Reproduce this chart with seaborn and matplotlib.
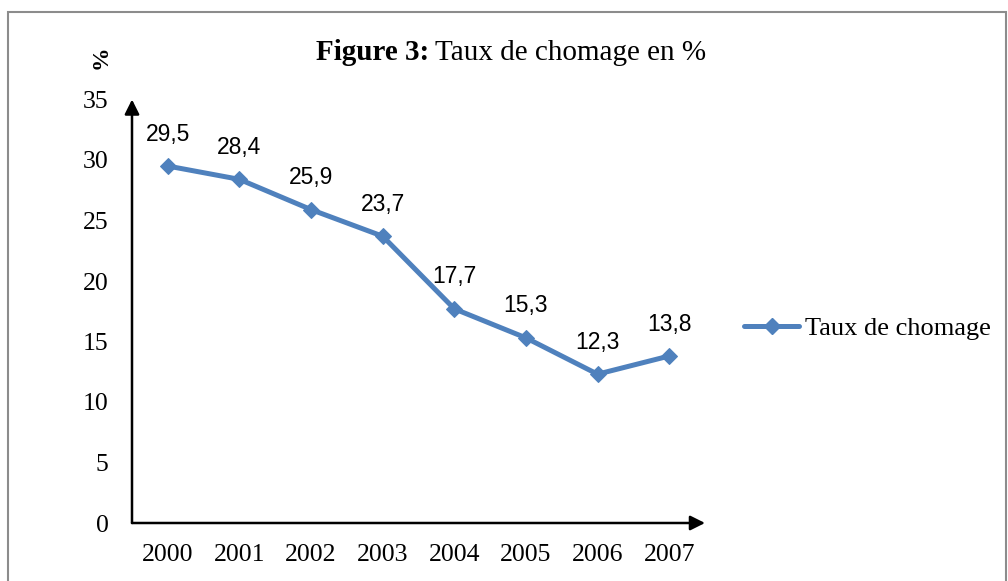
import matplotlib
matplotlib.use("Agg")
import matplotlib.pyplot as plt
import seaborn as sns
import pandas as pd
from matplotlib.lines import Line2D
from matplotlib.patches import Rectangle

years = ["2000", "2001", "2002", "2003", "2004", "2005", "2006", "2007"]
rates = [29.5, 28.4, 25.9, 23.7, 17.7, 15.3, 12.3, 13.8]
labels = ["29,5", "28,4", "25,9", "23,7", "17,7", "15,3", "12,3", "13,8"]
series_name = "Taux de chomage"
y_ticks = [0, 5, 10, 15, 20, 25, 30, 35]

sns.set_theme(style="white")
plt.rcParams["font.family"] = ["Liberation Serif", "DejaVu Serif"]
plt.rcParams["text.color"] = "black"
plt.rcParams["xtick.color"] = "black"
plt.rcParams["ytick.color"] = "black"

W, H = 1008, 581
fig = plt.figure(figsize=(W / 100, H / 100), dpi=100)
ax = fig.add_axes([132 / W, 1 - 523 / H, (705 - 132) / W, (523 - 99.5) / H])

color = "#4F81BD"
df = pd.DataFrame({"year": years, "rate": rates})
sns.lineplot(data=df, x="year", y="rate", ax=ax, color=color, linewidth=3.6,
             marker="D", markersize=8.5, markeredgecolor=color, sort=False)

for i, (v, lab) in enumerate(zip(rates, labels)):
    ax.annotate(lab, (i, v), xytext=(0, 23), textcoords="offset points",
                ha="center", va="center", fontsize=16.5,
                family=["Liberation Sans", "DejaVu Sans"], color="black")

ax.set_xlim(-0.5, 7.5)
ax.set_ylim(0, 35)
ax.set_yticks(y_ticks)
ax.set_yticklabels([str(t) for t in y_ticks])
ax.tick_params(axis="both", length=0, labelsize=18.5, colors="black")
ax.tick_params(axis="y", pad=17)
ax.tick_params(axis="x", pad=15)
ax.set_xlabel("")
ax.set_ylabel("")
for s in ax.spines.values():
    s.set_visible(False)

# arrowed axes
ax.annotate("", xy=(1.0, 0), xytext=(0, 0), xycoords="axes fraction",
            textcoords="axes fraction",
            arrowprops=dict(arrowstyle="-|>", color="black", lw=1.8,
                            mutation_scale=22, shrinkA=0, shrinkB=0))
ax.annotate("", xy=(0, 1.0), xytext=(0, 0), xycoords="axes fraction",
            textcoords="axes fraction",
            arrowprops=dict(arrowstyle="-|>", color="black", lw=1.8,
                            mutation_scale=22, shrinkA=0, shrinkB=0))

# title
t1 = fig.text(316 / W, 1 - 53 / H, "Figure 3:", fontsize=21, fontweight="bold",
              ha="left", va="center")
fig.canvas.draw()
bb = t1.get_window_extent()
fig.text(bb.x1 / W + 6 / W, 1 - 53 / H, "Taux de chomage en %", fontsize=21,
         ha="left", va="center")

# y unit label
fig.text(101 / W, 1 - 57 / H, "%", fontsize=17, fontweight="bold", rotation=90,
         ha="center", va="center")

# legend
handle = Line2D([], [], color=color, lw=3.6, marker="D", markersize=8.5,
                markeredgecolor=color)
fig.legend([handle], [series_name], loc="center left",
           bbox_to_anchor=(744 / W, 1 - 328 / H), frameon=False, fontsize=19,
           handlelength=2.1, handletextpad=0.2, borderpad=0, borderaxespad=0)

# border
fig.add_artist(Rectangle((8 / W, -0.01), (1006 - 8) / W, 1 - 12 / H + 0.01,
                         transform=fig.transFigure, fill=False,
                         edgecolor="#8c8c8c", lw=1.5))

fig.savefig("out.png", dpi=100)
